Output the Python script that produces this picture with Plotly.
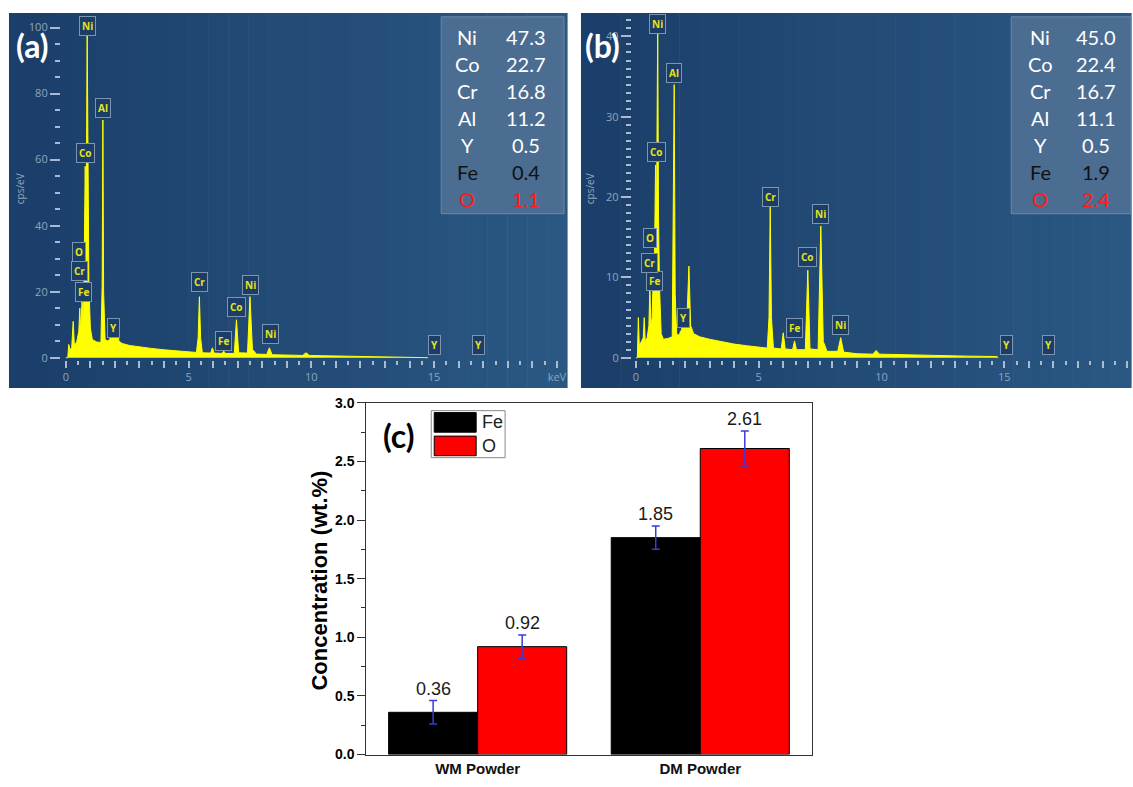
import numpy as np
import plotly.graph_objects as go

W, H = 1133, 787
def px(x):
    return x / W
def py(y):
    return 1 - y / H

# ---------------- data: EDS spectrum (a) ----------------
energy_a = [0.00, 0.08, 0.12, 0.17, 0.24, 0.30, 0.35, 0.45, 0.53, 0.57,
            0.61, 0.66, 0.70, 0.74, 0.79, 0.83, 0.87, 0.90, 0.94, 1.00,
            1.08, 1.25, 1.43, 1.48, 1.51, 1.54, 1.60, 1.72, 1.82, 1.92,
            1.98, 2.04, 2.10, 2.16, 2.30, 2.60, 3.00, 3.50, 4.00, 4.50,
            5.00, 5.32, 5.39, 5.44, 5.49, 5.56, 5.90, 5.97, 6.04, 6.36,
            6.43, 6.50, 6.86, 6.95, 7.04, 7.40, 7.50, 7.60, 7.67, 7.75,
            8.18, 8.29, 8.40, 9.00, 9.65, 9.78, 9.92, 10.50, 11.50, 12.50,
            13.50, 14.70, 14.75]
cps_a = [0, 0, 4, 2.5, 3, 11, 3.5, 5, 8, 15,
         8, 17, 12, 22, 58, 42, 100, 45, 22, 9,
         5.5, 4.8, 4.6, 22, 72, 20, 5.5, 5, 6, 9,
         6, 10, 11, 5, 4.3, 3.7, 3.2, 2.8, 2.4, 2.1,
         1.8, 1.6, 6, 18.5, 6, 1.5, 1.4, 3, 1.4, 1.3,
         2, 1.3, 1.3, 11.5, 1.5, 1.4, 18.5, 2.5, 2, 1.1,
         1, 3, 0.9, 0.8, 0.7, 1.5, 0.7, 0.6, 0.5, 0.4,
         0.3, 0.2, 0]
peak_names_a = ['Ni', 'Al', 'Co', 'O', 'Fe', 'Cr', 'Y', 'Cr', 'Fe', 'Co', 'Ni', 'Ni', 'Y', 'Y']
peak_x_a = [0.89, 1.50, 0.81, 0.53, 0.74, 0.57, 1.95, 5.45, 6.42, 6.95, 7.52, 8.33, 15.0, 16.8]
peak_y_a = [100.6, 75.7, 62.0, 32.0, 19.9, 26.4, 8.9, 22.8, 5.0, 15.4, 22.0, 7.1, 3.9, 3.9]

# ---------------- data: EDS spectrum (b) ----------------
energy_b = [0.00, 0.06, 0.10, 0.14, 0.22, 0.30, 0.34, 0.38, 0.46, 0.53,
            0.57, 0.61, 0.66, 0.70, 0.75, 0.80, 0.84, 0.89, 0.92, 0.96,
            1.03, 1.12, 1.30, 1.48, 1.56, 1.60, 1.66, 1.75, 1.86, 1.93,
            2.00, 2.08, 2.16, 2.23, 2.35, 2.60, 3.00, 3.50, 4.00, 4.50,
            5.00, 5.35, 5.42, 5.47, 5.52, 5.60, 5.92, 6.00, 6.08, 6.38,
            6.46, 6.54, 6.90, 7.00, 7.09, 7.42, 7.53, 7.63, 7.70, 7.78,
            8.22, 8.34, 8.46, 9.00, 9.65, 9.78, 9.92, 10.50, 11.50, 12.50,
            13.50, 14.70, 14.75]
cps_b = [0, 0, 5, 1.5, 2, 2.5, 5, 2, 2.5, 4,
         9, 4, 5, 9.5, 10, 24, 18, 42, 18, 9,
         3, 2.3, 2.4, 2.6, 34, 8, 3, 2.8, 3.5, 4.5,
         3.5, 5, 11.4, 4, 3, 2.6, 2.3, 2.0, 1.7, 1.5,
         1.3, 1.2, 5, 18.8, 5, 1.2, 1.1, 3.1, 1.1, 1.0,
         2.1, 1.0, 1.0, 10.9, 1.1, 1.0, 16.4, 2.0, 1.5, 0.8,
         0.8, 2.5, 0.7, 0.5, 0.45, 0.9, 0.45, 0.4, 0.35, 0.3,
         0.2, 0.15, 0]
peak_names_b = ['Ni', 'Al', 'Co', 'O', 'Fe', 'Cr', 'Y', 'Cr', 'Fe', 'Co', 'Ni', 'Ni', 'Y', 'Y']
peak_x_b = [0.89, 1.54, 0.85, 0.57, 0.77, 0.57, 1.95, 5.49, 6.46, 7.00, 7.52, 8.33, 15.08, 16.8]
peak_y_b = [41.5, 35.5, 25.6, 14.9, 9.5, 11.8, 4.9, 20.0, 3.7, 12.6, 17.9, 4.1, 1.6, 1.6]

# ---------------- data: composition tables ----------------
elements = ['Ni', 'Co', 'Cr', 'Al', 'Y', 'Fe', 'O']
wt_a = ['47.3', '22.7', '16.8', '11.2', '0.5', '0.4', '1.1']
wt_b = ['45.0', '22.4', '16.7', '11.1', '0.5', '1.9', '2.4']
elem_colors = ['#ffffff', '#ffffff', '#ffffff', '#ffffff', '#ffffff', '#111111', '#ff1a1a']

# ---------------- data: bar chart (c) ----------------
powders = ['WM Powder', 'DM Powder']
fe_conc = [0.36, 1.85]
fe_err = [0.10, 0.10]
o_conc = [0.92, 2.61]
o_err = [0.10, 0.15]

# ---------------- styles ----------------
YEL = '#ffff00'
TICKC = '#a9bbcf'
LABC = '#8fa5be'
SPEC_FONT = 'Open Sans'
TAB_FONT = 'Lato'
ARIAL = 'Liberation Sans'

fig = go.Figure()

fig.add_trace(go.Scatter(x=energy_a, y=cps_a, mode='lines', line=dict(color=YEL, width=1),
                         fill='tozeroy', fillcolor=YEL, xaxis='x', yaxis='y',
                         hoverinfo='skip', showlegend=False))
fig.add_trace(go.Scatter(x=energy_b, y=cps_b, mode='lines', line=dict(color=YEL, width=1),
                         fill='tozeroy', fillcolor=YEL, xaxis='x2', yaxis='y2',
                         hoverinfo='skip', showlegend=False))

grp = np.arange(len(powders))
fe_x = grp - 0.2
o_x = grp + 0.2
err_style = dict(type='data', color='#3b3bd8', thickness=1.5, width=4)
fig.add_trace(go.Bar(x=fe_x, y=fe_conc, width=0.4, name='Fe',
                     marker=dict(color='#000000', line=dict(color='#000000', width=1)),
                     error_y=dict(array=fe_err, **err_style), xaxis='x3', yaxis='y3',
                     showlegend=False))
fig.add_trace(go.Bar(x=o_x, y=o_conc, width=0.4, name='O',
                     marker=dict(color='#ff0000', line=dict(color='#000000', width=1)),
                     error_y=dict(array=o_err, **err_style), xaxis='x3', yaxis='y3',
                     showlegend=False))

shapes = []
annotations = []

# blue panel backgrounds with a gentle left-to-right gradient
def blue_panel(x0, x1, y0, y1, n=28):
    c0 = np.array([27, 63, 106])
    c1 = np.array([42, 88, 131])
    step = (x1 - x0) / n
    for i in range(n):
        c = c0 + (c1 - c0) * i / (n - 1)
        shapes.append(dict(type='rect', xref='paper', yref='paper', layer='below',
                           x0=px(x0 + i * step), x1=px(x0 + (i + 1) * step + 0.6),
                           y0=py(y1), y1=py(y0), line=dict(width=0),
                           fillcolor='rgb(%d,%d,%d)' % tuple(c)))

blue_panel(9, 568, 5, 388)
blue_panel(582, 1133, 5, 388)

# composition tables
def table(x0, x1, xe, xv, names, vals):
    shapes.append(dict(type='rect', xref='paper', yref='paper', layer='below',
                       x0=px(x0), x1=px(x1), y0=py(210), y1=py(9),
                       fillcolor='#4c6d92', line=dict(color='#6d89a8', width=1)))
    for i, (n, v) in enumerate(zip(names, vals)):
        yy = py(30 + 27.5 * i)
        for t, xx in ((n, xe), (v, xv)):
            annotations.append(dict(text=t, xref='paper', yref='paper', x=px(xx), y=yy,
                                    xanchor='center', yanchor='middle', showarrow=False,
                                    font=dict(family=TAB_FONT, size=20, color=elem_colors[i])))

table(442, 565, 468, 527, elements, wt_a)
table(1013, 1133, 1042, 1098, elements, wt_b)

# peak labels
def peak_labels(names, xs, ys, xr, yr):
    for n, xx, yy in zip(names, xs, ys):
        annotations.append(dict(text=n, xref=xr, yref=yr, x=xx, y=yy, showarrow=False,
                                xanchor='center', yanchor='middle',
                                font=dict(family=SPEC_FONT, size=10, color='#e4e41c', weight='bold'),
                                bgcolor='#1c3e66', bordercolor='#7d95b1', borderwidth=1, borderpad=2))

peak_labels(peak_names_a, peak_x_a, peak_y_a, 'x', 'y')
peak_labels(peak_names_b, peak_x_b, peak_y_b, 'x2', 'y2')

# axis unit labels
for xx in (20, 591):
    annotations.append(dict(text='cps/eV', xref='paper', yref='paper', x=px(xx), y=py(184),
                            textangle=-90, showarrow=False, xanchor='center', yanchor='middle',
                            font=dict(family=SPEC_FONT, size=10, color=LABC)))

# panel letters
annotations.append(dict(text='(a)', xref='paper', yref='paper', x=px(33), y=py(38),
                        showarrow=False, xanchor='center', yanchor='middle',
                        font=dict(family=TAB_FONT, size=32, color='white', weight='bold')))
annotations.append(dict(text='(b)', xref='paper', yref='paper', x=px(604), y=py(38),
                        showarrow=False, xanchor='center', yanchor='middle',
                        font=dict(family=TAB_FONT, size=32, color='white', weight='bold')))
annotations.append(dict(text='(c)', xref='paper', yref='paper', x=px(400), y=py(436),
                        showarrow=False, xanchor='center', yanchor='middle',
                        font=dict(family=TAB_FONT, size=32, color='black', weight='bold')))

# bar value labels
for xs, vals, errs in ((fe_x, fe_conc, fe_err), (o_x, o_conc, o_err)):
    for xx, v, e in zip(xs, vals, errs):
        annotations.append(dict(text='%.2f' % v, xref='x3', yref='y3', x=xx, y=v + e,
                                showarrow=False, xanchor='center', yanchor='bottom', yshift=0,
                                font=dict(family=ARIAL, size=18, color='#1a1a1a')))

# y title of (c)
annotations.append(dict(text='Concentration (wt.%)', xref='paper', yref='paper',
                        x=px(320), y=py(584), textangle=-90, showarrow=False,
                        xanchor='center', yanchor='middle',
                        font=dict(family=ARIAL, size=22, color='black', weight='bold')))

# legend of (c)
shapes.append(dict(type='rect', xref='paper', yref='paper', x0=px(432), x1=px(506),
                   y0=py(459), y1=py(411), fillcolor='white', line=dict(color='#888888', width=1)))
legend_items = [('Fe', '#000000'), ('O', '#ff0000')]
for i, (name, col) in enumerate(legend_items):
    top = 413 + 24 * i
    shapes.append(dict(type='rect', xref='paper', yref='paper', x0=px(435), x1=px(477),
                       y0=py(top + 20), y1=py(top), fillcolor=col,
                       line=dict(color='#000000', width=1)))
    annotations.append(dict(text=name, xref='paper', yref='paper', x=px(481), y=py(top + 10),
                            showarrow=False, xanchor='left', yanchor='middle',
                            font=dict(family=ARIAL, size=18, color='#222222')))

spec_tickfont = dict(family=SPEC_FONT, size=11, color=LABC)
xticks = list(range(0, 21))
xtext = [str(v) if v % 5 == 0 else '' for v in xticks]
xtext[-1] = 'keV'

def spec_xaxis(domain, rng, anchor):
    return dict(domain=domain, range=rng, anchor=anchor, tickmode='array', tickvals=xticks,
                ticktext=xtext, ticks='outside', ticklen=7, tickwidth=2, tickcolor=TICKC,
                minor=dict(tickmode='linear', tick0=0, dtick=0.5, ticks='outside', ticklen=4,
                           tickwidth=2, tickcolor=TICKC),
                showgrid=False, zeroline=False, showline=False, tickfont=spec_tickfont,
                fixedrange=True)

def spec_yaxis(domain, rng, anchor, dmaj, dmin):
    return dict(domain=domain, range=rng, anchor=anchor, tickmode='linear', tick0=0, dtick=dmaj,
                ticks='outside', ticklen=10, tickwidth=2, tickcolor=TICKC,
                minor=dict(tickmode='linear', tick0=0, dtick=dmin, ticks='outside', ticklen=5,
                           tickwidth=2, tickcolor=TICKC),
                showgrid=False, zeroline=False, showline=False, tickfont=spec_tickfont,
                fixedrange=True)

bold14 = dict(family=ARIAL, size=14, color='black', weight='bold')

fig.update_layout(
    width=W, height=H, margin=dict(l=0, r=0, t=0, b=0),
    paper_bgcolor='white', plot_bgcolor='rgba(0,0,0,0)', showlegend=False,
    xaxis=spec_xaxis([px(61), px(566)], [-0.2, 20.33], 'y'),
    yaxis=spec_yaxis([py(359), py(5)], [-0.6, 104.45], 'x', 20, 5),
    xaxis2=spec_xaxis([px(633), 1.0], [-0.163, 20.16], 'y2'),
    yaxis2=spec_yaxis([py(359), py(5)], [-0.244, 42.93], 'x2', 10, 1),
    xaxis3=dict(domain=[px(367), px(813)], range=[-0.5, 1.5], anchor='y3', tickmode='array',
                tickvals=grp, ticktext=powders, ticks='', showgrid=False, zeroline=False,
                showline=True, mirror=True, linecolor='#333333', linewidth=1,
                tickfont=dict(family=ARIAL, size=15, color='#111111', weight='bold')),
    yaxis3=dict(domain=[py(762), py(403)], range=[0, 3], anchor='x3', tickmode='linear',
                tick0=0, dtick=0.5, tickformat='.1f', ticks='outside', ticklen=8, tickwidth=1,
                tickcolor='#333333',
                minor=dict(tickmode='linear', tick0=0, dtick=0.25, ticks='outside', ticklen=4,
                           tickwidth=1, tickcolor='#333333'),
                showgrid=False, zeroline=False, showline=True, mirror=True,
                linecolor='#333333', linewidth=1, tickfont=bold14),
    shapes=shapes, annotations=annotations,
)

fig.write_html('out.html')
